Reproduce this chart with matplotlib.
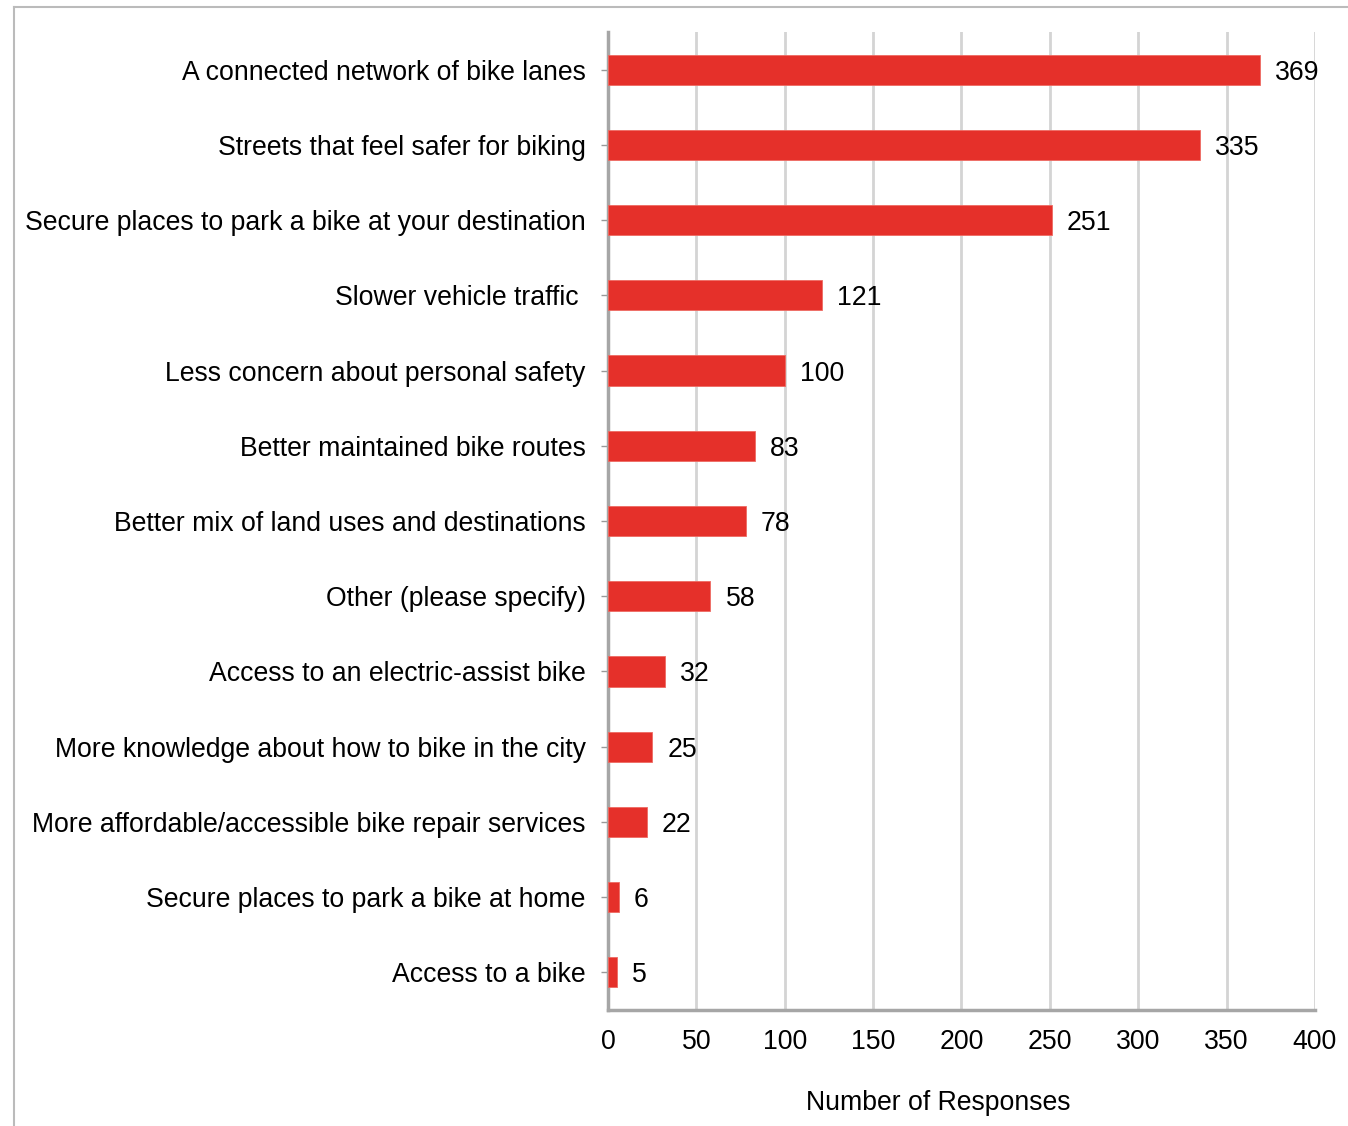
import matplotlib
matplotlib.use("Agg")
import matplotlib.pyplot as plt
from matplotlib.lines import Line2D

# survey answers, top to bottom as shown
categories = [
    "A connected network of bike lanes",
    "Streets that feel safer for biking",
    "Secure places to park a bike at your destination",
    "Slower vehicle traffic ",
    "Less concern about personal safety",
    "Better maintained bike routes",
    "Better mix of land uses and destinations",
    "Other (please specify)",
    "Access to an electric-assist bike",
    "More knowledge about how to bike in the city",
    "More affordable/accessible bike repair services",
    "Secure places to park a bike at home",
    "Access to a bike",
]
responses = [369, 335, 251, 121, 100, 83, 78, 58, 32, 25, 22, 6, 5]
x_ticks = [0, 50, 100, 150, 200, 250, 300, 350, 400]
x_label = "Number of Responses"

plt.rcParams['font.family'] = ['Liberation Sans', 'DejaVu Sans']
FS = 19.2

fig = plt.figure(figsize=(13.48, 11.26), dpi=100)
ax = fig.add_axes([0.451, 0.103, 0.5245, 0.8686])

pos = list(range(len(categories)))[::-1]
ax.barh(pos, responses, height=0.4, color='#E5302A', edgecolor='#EE6A62', linewidth=0.6, zorder=3)

for p, v in zip(pos, responses):
    ax.text(v + 8.5, p, str(v), va='center_baseline', ha='left', fontsize=FS, color='black', zorder=4)

ax.set_xlim(0, 400)
ax.set_ylim(-0.5, len(categories) - 0.5)
ax.set_xticks(x_ticks)
ax.set_xticklabels([str(t) for t in x_ticks], fontsize=FS)
ax.set_yticks(pos)
ax.set_yticklabels(categories, fontsize=FS)
ax.tick_params(axis='x', length=0, pad=14)
ax.tick_params(axis='y', length=5, width=1, color='#999999', pad=11)

ax.grid(axis='x', color='#D4D4D4', linewidth=2, zorder=0)
ax.set_axisbelow(True)
for s in ['top', 'right']:
    ax.spines[s].set_visible(False)
for s in ['left', 'bottom']:
    ax.spines[s].set_color('#A6A6A6')
    ax.spines[s].set_linewidth(2.5)

ax.set_xlabel(x_label, fontsize=FS)
ax.xaxis.set_label_coords(0.467, -0.082)

# thin frame round the picture (left and top edges only)
fig.add_artist(Line2D([14 / 1348, 14 / 1348], [0, 1 - 7 / 1126], transform=fig.transFigure, color='#BBBBBB', linewidth=1.5))
fig.add_artist(Line2D([14 / 1348, 1], [1 - 7 / 1126, 1 - 7 / 1126], transform=fig.transFigure, color='#BBBBBB', linewidth=1.5))

fig.savefig("out.png", dpi=100)
